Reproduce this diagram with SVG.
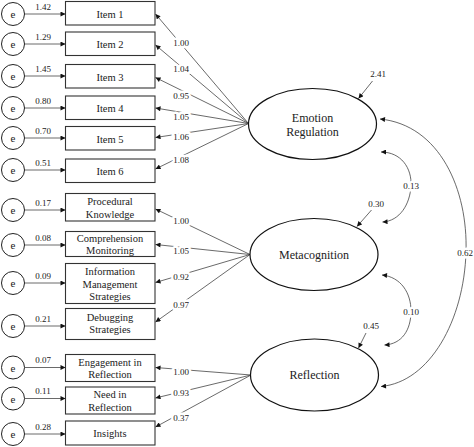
<svg xmlns="http://www.w3.org/2000/svg" width="474" height="447" viewBox="0 0 474 447" font-family="'Liberation Serif', 'DejaVu Serif', 'Times New Roman', serif">
<defs>
<marker id="ah" viewBox="0 0 10 10" refX="10" refY="5" markerWidth="6" markerHeight="5" markerUnits="userSpaceOnUse" orient="auto-start-reverse">
<path d="M0,0 L10,5 L0,10 z" fill="#111"/>
</marker>
<style>
text{font-family:'Liberation Serif','DejaVu Serif',serif;fill:#222}
.box{fill:#fff;stroke:#333;stroke-width:1.1}
.err{fill:#fff;stroke:#222;stroke-width:1}
.lat{fill:#fff;stroke:#111;stroke-width:1.2}
.lbl{font-size:10.5px;text-anchor:middle}
.big{font-size:12px;text-anchor:middle}
.num{font-size:9px;text-anchor:middle}
.gap{paint-order:stroke;stroke:#fff;stroke-width:5px;stroke-linejoin:round}
.e{font-size:11px;text-anchor:middle}
.ln{fill:none;stroke:#444;stroke-width:0.8;marker-end:url(#ah)}
.cv{fill:none;stroke:#444;stroke-width:0.8;marker-start:url(#ah);marker-end:url(#ah)}
</style>
</defs>
<rect width="474" height="447" fill="#fff"/>

<g id="connectors">
<line class="ln" x1="24.5" y1="14" x2="65.5" y2="14"/>
<line class="ln" x1="24.5" y1="44" x2="65.5" y2="44"/>
<line class="ln" x1="24.5" y1="76" x2="65.5" y2="76"/>
<line class="ln" x1="24.5" y1="108" x2="65.5" y2="108"/>
<line class="ln" x1="24.5" y1="138" x2="65.5" y2="138"/>
<line class="ln" x1="24.5" y1="170" x2="65.5" y2="170"/>
<line class="ln" x1="24.5" y1="210" x2="65.5" y2="210"/>
<line class="ln" x1="24.5" y1="245" x2="65.5" y2="245"/>
<line class="ln" x1="24.5" y1="283" x2="65.5" y2="283"/>
<line class="ln" x1="24.5" y1="326" x2="65.5" y2="326"/>
<line class="ln" x1="24.5" y1="367.5" x2="65.5" y2="367.5"/>
<line class="ln" x1="24.5" y1="398.5" x2="65.5" y2="398.5"/>
<line class="ln" x1="24.5" y1="434" x2="65.5" y2="434"/>
<line class="ln" x1="248.5" y1="123.5" x2="155.5" y2="14"/>
<line class="ln" x1="248.5" y1="123.5" x2="155.5" y2="45"/>
<line class="ln" x1="248.5" y1="123.5" x2="155.5" y2="77.5"/>
<line class="ln" x1="248.5" y1="123.5" x2="155.5" y2="108"/>
<line class="ln" x1="248.5" y1="123.5" x2="155.5" y2="137.5"/>
<line class="ln" x1="248.5" y1="123.5" x2="155.5" y2="169"/>
<line class="ln" x1="250" y1="254.5" x2="155.5" y2="209"/>
<line class="ln" x1="250" y1="254.5" x2="155.5" y2="244.5"/>
<line class="ln" x1="250" y1="254.5" x2="155.5" y2="282.5"/>
<line class="ln" x1="250" y1="254.5" x2="155.5" y2="322"/>
<line class="ln" x1="251" y1="375" x2="155.5" y2="367.5"/>
<line class="ln" x1="251" y1="375" x2="155.5" y2="398"/>
<line class="ln" x1="251" y1="375" x2="155.5" y2="427"/>
<line class="ln" x1="372.5" y1="81" x2="358.5" y2="98.5"/>
<line class="ln" x1="371.5" y1="210" x2="357" y2="226.5"/>
<line class="ln" x1="366" y1="333" x2="358.5" y2="348"/>
<path class="cv" d="M381,152 C401,152 412,168 411,186 C410,204 400,221 382.5,222"/>
<path class="cv" d="M382,275 C401,277 411,293 411,311 C411,330 402,344 384.5,345"/>
<path class="cv" d="M380,119 C440,125 468,190 466,252 C464,320 430,382 381,386.5"/>
<g class="num">
<text x="43" y="9.5">1.42</text>
<text x="43" y="39.5">1.29</text>
<text x="43" y="71.5">1.45</text>
<text x="43" y="103.5">0.80</text>
<text x="43" y="133.5">0.70</text>
<text x="43" y="165.5">0.51</text>
<text x="43" y="205.5">0.17</text>
<text x="43" y="240.5">0.08</text>
<text x="43" y="278.5">0.09</text>
<text x="43" y="321.5">0.21</text>
<text x="43" y="363">0.07</text>
<text x="43" y="394">0.11</text>
<text x="43" y="429.5">0.28</text>
<text class="gap" x="181" y="46">1.00</text>
<text class="gap" x="181" y="72">1.04</text>
<text class="gap" x="181" y="99">0.95</text>
<text class="gap" x="181" y="120">1.05</text>
<text class="gap" x="181" y="140">1.06</text>
<text class="gap" x="181" y="163">1.08</text>
<text class="gap" x="181" y="224">1.00</text>
<text class="gap" x="181" y="254">1.05</text>
<text class="gap" x="181" y="280">0.92</text>
<text class="gap" x="181" y="308">0.97</text>
<text class="gap" x="181" y="375">1.00</text>
<text class="gap" x="181" y="396">0.93</text>
<text class="gap" x="181" y="420.5">0.37</text>
<text x="378" y="76.5">2.41</text>
<text x="376" y="206.5">0.30</text>
<text x="371" y="329">0.45</text>
<text class="gap" x="411" y="189">0.13</text>
<text class="gap" x="411" y="315">0.10</text>
<text class="gap" x="465" y="256">0.62</text>
</g>
</g>

<g id="e1"><circle class="err" cx="13" cy="14" r="11.5"/><text class="e" x="13" y="18">e</text></g>
<g id="e2"><circle class="err" cx="13" cy="44" r="11.5"/><text class="e" x="13" y="48">e</text></g>
<g id="e3"><circle class="err" cx="13" cy="76" r="11.5"/><text class="e" x="13" y="80">e</text></g>
<g id="e4"><circle class="err" cx="13" cy="108" r="11.5"/><text class="e" x="13" y="112">e</text></g>
<g id="e5"><circle class="err" cx="13" cy="138" r="11.5"/><text class="e" x="13" y="142">e</text></g>
<g id="e6"><circle class="err" cx="13" cy="170" r="11.5"/><text class="e" x="13" y="174">e</text></g>
<g id="e7"><circle class="err" cx="13" cy="210" r="11.5"/><text class="e" x="13" y="214">e</text></g>
<g id="e8"><circle class="err" cx="13" cy="245" r="11.5"/><text class="e" x="13" y="249">e</text></g>
<g id="e9"><circle class="err" cx="13" cy="283" r="11.5"/><text class="e" x="13" y="287">e</text></g>
<g id="e10"><circle class="err" cx="13" cy="326" r="11.5"/><text class="e" x="13" y="330">e</text></g>
<g id="e11"><circle class="err" cx="13" cy="367.5" r="11.5"/><text class="e" x="13" y="371.5">e</text></g>
<g id="e12"><circle class="err" cx="13" cy="398.5" r="11.5"/><text class="e" x="13" y="402.5">e</text></g>
<g id="e13"><circle class="err" cx="13" cy="434" r="11.5"/><text class="e" x="13" y="438">e</text></g>

<g id="item1"><rect class="box" x="65.5" y="1.5" width="89.5" height="23.5"/><text class="lbl" x="110" y="17.5">Item 1</text></g>
<g id="item2"><rect class="box" x="65.5" y="32" width="89.5" height="23.5"/><text class="lbl" x="110" y="48">Item 2</text></g>
<g id="item3"><rect class="box" x="65.5" y="64.5" width="89.5" height="23.5"/><text class="lbl" x="110" y="80.5">Item 3</text></g>
<g id="item4"><rect class="box" x="65.5" y="96" width="89.5" height="23.5"/><text class="lbl" x="110" y="112">Item 4</text></g>
<g id="item5"><rect class="box" x="65.5" y="126.5" width="89.5" height="23.5"/><text class="lbl" x="110" y="142.5">Item 5</text></g>
<g id="item6"><rect class="box" x="65.5" y="159" width="89.5" height="23.5"/><text class="lbl" x="110" y="175">Item 6</text></g>
<g id="procedural"><rect class="box" x="65.5" y="193.5" width="89.5" height="27.5"/><text class="lbl" x="110" y="205">Procedural</text><text class="lbl" x="110" y="217.5">Knowledge</text></g>
<g id="comprehension"><rect class="box" x="65.5" y="231.5" width="89.5" height="25"/><text class="lbl" x="110" y="242">Comprehension</text><text class="lbl" x="110" y="254">Monitoring</text></g>
<g id="information"><rect class="box" x="65.5" y="263.5" width="89.5" height="40"/><text class="lbl" x="110" y="275">Information</text><text class="lbl" x="110" y="287.5">Management</text><text class="lbl" x="110" y="300">Strategies</text></g>
<g id="debugging"><rect class="box" x="65.5" y="308.5" width="89.5" height="31"/><text class="lbl" x="110" y="320.5">Debugging</text><text class="lbl" x="110" y="333">Strategies</text></g>
<g id="engagement"><rect class="box" x="65.5" y="354.5" width="89.5" height="27"/><text class="lbl" x="110" y="365.5">Engagement in</text><text class="lbl" x="110" y="377.5">Reflection</text></g>
<g id="need"><rect class="box" x="65.5" y="387" width="89.5" height="27"/><text class="lbl" x="110" y="398">Need in</text><text class="lbl" x="110" y="410.5">Reflection</text></g>
<g id="insights"><rect class="box" x="65.5" y="421" width="89.5" height="24"/><text class="lbl" x="110" y="437">Insights</text></g>

<g id="emotion"><ellipse class="lat" cx="312.5" cy="124" rx="64" ry="35.5"/><text class="big" x="312.5" y="121.5">Emotion</text><text class="big" x="312.5" y="135.5">Regulation</text></g>
<g id="metacognition"><ellipse class="lat" cx="314" cy="254.5" rx="64" ry="36"/><text class="big" x="314" y="259">Metacognition</text></g>
<g id="reflection"><ellipse class="lat" cx="314.5" cy="375" rx="64" ry="36"/><text class="big" x="314.5" y="379">Reflection</text></g>
</svg>
